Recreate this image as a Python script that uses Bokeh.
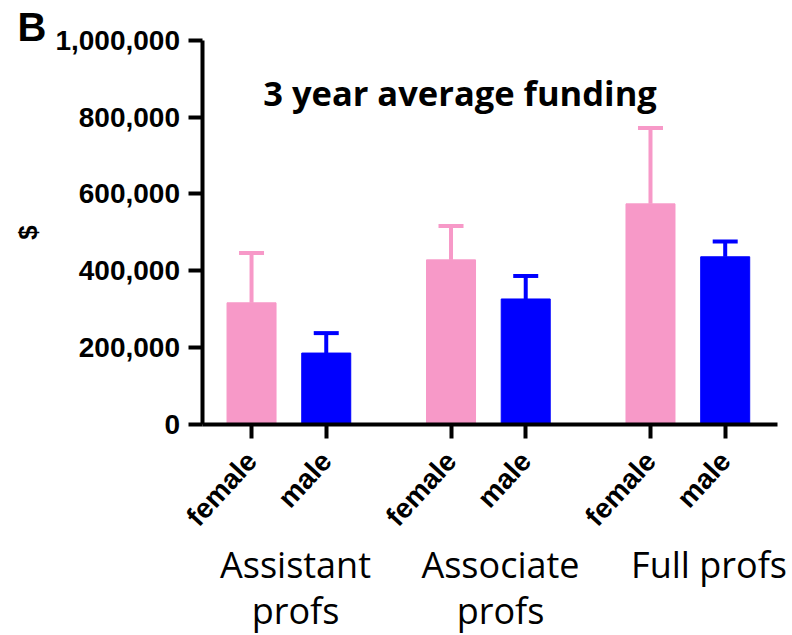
from bokeh.embed import file_html
from bokeh.models import (ColumnDataSource, FixedTicker, Label, NumeralTickFormatter,
                          Range1d, TeeHead, Whisker)
from bokeh.plotting import figure
from bokeh.resources import INLINE

# ---- data -------------------------------------------------------------
ranks = ["Assistant profs", "Associate profs", "Full profs"]
rank_lines = [["Assistant", "profs"], ["Associate", "profs"], ["Full profs"]]
sexes = ["female", "male"]
female_mean = [316000, 428000, 574000]
female_sem = [130000, 88000, 198000]
male_mean = [185000, 326000, 436000]
male_sem = [52000, 60000, 40000]
y_ticks = [0, 200000, 400000, 600000, 800000, 1000000]

# ---- layout constants ---------------------------------------------------
W, H = 792, 635
AX_X, AX_Y, AX_TOP, AX_RIGHT = 201.5, 423.5, 40, 777   # axis placement, px
GROUP_STEP = 2.67          # distance between rank groups, in bar slots
BAR_W = 0.656
X0, X1 = -0.663, 7.04      # data span of the x axis line
Y0, Y1 = 0, 1_000_000      # data span of the y axis line
PINK = "#F799C8"
BLUE = "#0000FF"
ARIAL = "Liberation Sans"
SANS = "Open Sans"

UX = (AX_RIGHT - AX_X) / (X1 - X0)      # px per x unit
UY = (AX_Y - AX_TOP) / (Y1 - Y0)        # px per y unit
x_start = X0 - AX_X / UX
y_end = Y1 + AX_TOP / UY


def dx(px):
    """canvas x pixel -> data x (annotation placement)"""
    return x_start + px / UX


def dy(py):
    """canvas y pixel -> data y (annotation placement)"""
    return y_end - py / UY


def slot(g, s):
    return round(g * GROUP_STEP + s, 4)


# the frame fills the whole canvas; axes are pinned inside it
p = figure(width=W, height=H, output_backend="svg", toolbar_location=None,
           x_range=Range1d(x_start, x_start + W / UX),
           y_range=Range1d(y_end - H / UY, y_end),
           min_border=0)
p.outline_line_color = None
p.xgrid.visible = False
p.ygrid.visible = False
p.background_fill_color = "white"
p.border_fill_color = "white"

tick_pos = []
tick_text = {}
for s, (sex, means, sems, color) in enumerate(
        [("female", female_mean, female_sem, PINK), ("male", male_mean, male_sem, BLUE)]):
    xs = [slot(g, s) for g in range(len(ranks))]
    src = ColumnDataSource(dict(
        x=xs, top=means, hi=[m + e for m, e in zip(means, sems)]))
    p.vbar(x="x", top="top", bottom=0, width=BAR_W, source=src,
           fill_color=color, line_color=color, line_width=1)
    p.add_layout(Whisker(source=src, base="x", lower="top", upper="hi",
                         dimension="height", line_color=color, line_width=4,
                         upper_head=TeeHead(size=25, line_color=color, line_width=4),
                         lower_head=None))
    for x in xs:
        tick_pos.append(x)
        tick_text[x] = sex

# ---- axes ---------------------------------------------------------------
xa = p.xaxis[0]
xa.fixed_location = Y0
xa.bounds = (X0, X1)
xa.ticker = FixedTicker(ticks=sorted(tick_pos))
xa.major_label_overrides = tick_text
xa.major_label_orientation = 0.83
xa.major_label_text_font = ARIAL
xa.major_label_text_font_style = "bold"
xa.major_label_text_font_size = "28px"
xa.major_label_text_color = "black"
xa.major_label_standoff = 18
xa.axis_line_width = 4
xa.major_tick_line_width = 4
xa.major_tick_out = 14
xa.major_tick_in = 0
xa.minor_tick_line_color = None

ya = p.yaxis[0]
ya.fixed_location = X0
ya.bounds = (Y0, Y1)
ya.ticker = FixedTicker(ticks=y_ticks)
ya.formatter = NumeralTickFormatter(format="0,0")
ya.major_label_text_font = ARIAL
ya.major_label_text_font_style = "bold"
ya.major_label_text_font_size = "28px"
ya.major_label_text_color = "black"
ya.major_label_standoff = 8
ya.axis_line_width = 4
ya.major_tick_line_width = 4
ya.major_tick_out = 14
ya.major_tick_in = 0
ya.minor_tick_line_color = None
ya.axis_label = "$"
ya.axis_label_text_font = ARIAL
ya.axis_label_text_font_style = "bold"
ya.axis_label_text_font_size = "26px"
ya.axis_label_text_color = "black"
ya.axis_label_standoff = 10

# ---- annotations ---------------------------------------------------------
p.add_layout(Label(x=dx(459.5), y=dy(92), text="3 year average funding",
                   text_font=SANS, text_font_style="bold",
                   text_font_size="34.5px", text_align="center",
                   text_baseline="alphabetic", text_color="black"))
p.add_layout(Label(x=dx(17), y=dy(26), text="B", text_font=ARIAL,
                   text_font_style="bold", text_font_size="40px",
                   text_align="left", text_baseline="alphabetic",
                   text_color="black"))

group_cx = [295, 500, 708.5]
line_base = [564, 610]
for cx, lines in zip(group_cx, rank_lines):
    for line, base in zip(lines, line_base):
        p.add_layout(Label(x=dx(cx), y=dy(base), text=line,
                           text_font=SANS, text_font_size="36px",
                           text_align="center", text_baseline="alphabetic",
                           text_color="black"))

open("out.html", "w").write(file_html(p, INLINE))
